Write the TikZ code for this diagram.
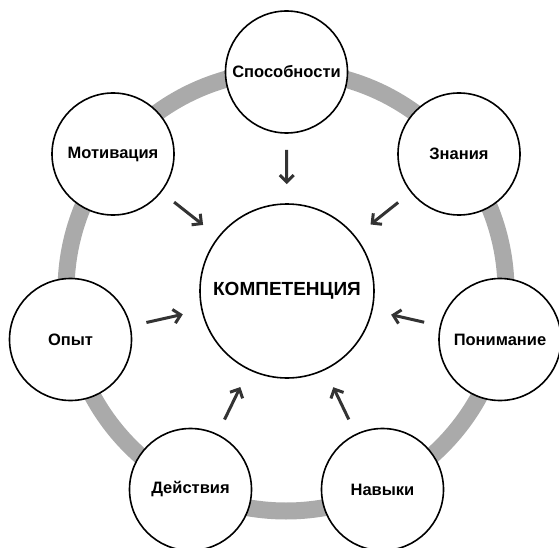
\documentclass[tikz,border=0pt]{standalone}
\usepackage{fontspec}
\setmainfont{Liberation Sans}
\usetikzlibrary{arrows.meta}
\definecolor{ringgray}{RGB}{170,170,170}
\definecolor{arrowdark}{RGB}{51,51,51}
\begin{document}
\begin{tikzpicture}[x=1pt,y=-1pt,
  ring/.style={draw=ringgray,line width=17pt},
  topic/.style={circle,draw=black,line width=1.6pt,fill=white,minimum size=122pt,inner sep=0pt,
    font=\bfseries\fontsize{16.5}{18}\selectfont},
  core/.style={topic,minimum size=174pt,font=\bfseries\fontsize{19}{21}\selectfont},
  flow/.style={draw=arrowdark,line width=3pt,-{Straight Barb[length=7pt,width=14pt]},
    shorten <=16pt,shorten >=19pt}]
\useasboundingbox (0,0) rectangle (559,548);
% ring joining the outer circles
\coordinate (hub) at (286,291);
\draw[ring] (hub) circle[radius=220pt];
% central circle
\node[core] (comp) at (287,291) {КОМПЕТЕНЦИЯ};
% outer circles
\node[topic] (spos) at (286.5,72) {Способности};
\node[topic] (znan) at (459,154) {Знания};
\node[topic] (pon) at (500,339.5) {Понимание};
\node[topic] (nav) at (382.5,489.5) {Навыки};
\node[topic] (dei) at (190.5,489.5) {Действия};
\node[topic] (opyt) at (70.5,339.5) {Опыт};
\node[topic] (mot) at (113,154) {Мотивация};
% arrows pointing to the centre
\foreach \n in {spos,znan,pon,nav,dei,opyt,mot}
  \draw[flow] (\n) -- (comp);
\end{tikzpicture}
\end{document}
